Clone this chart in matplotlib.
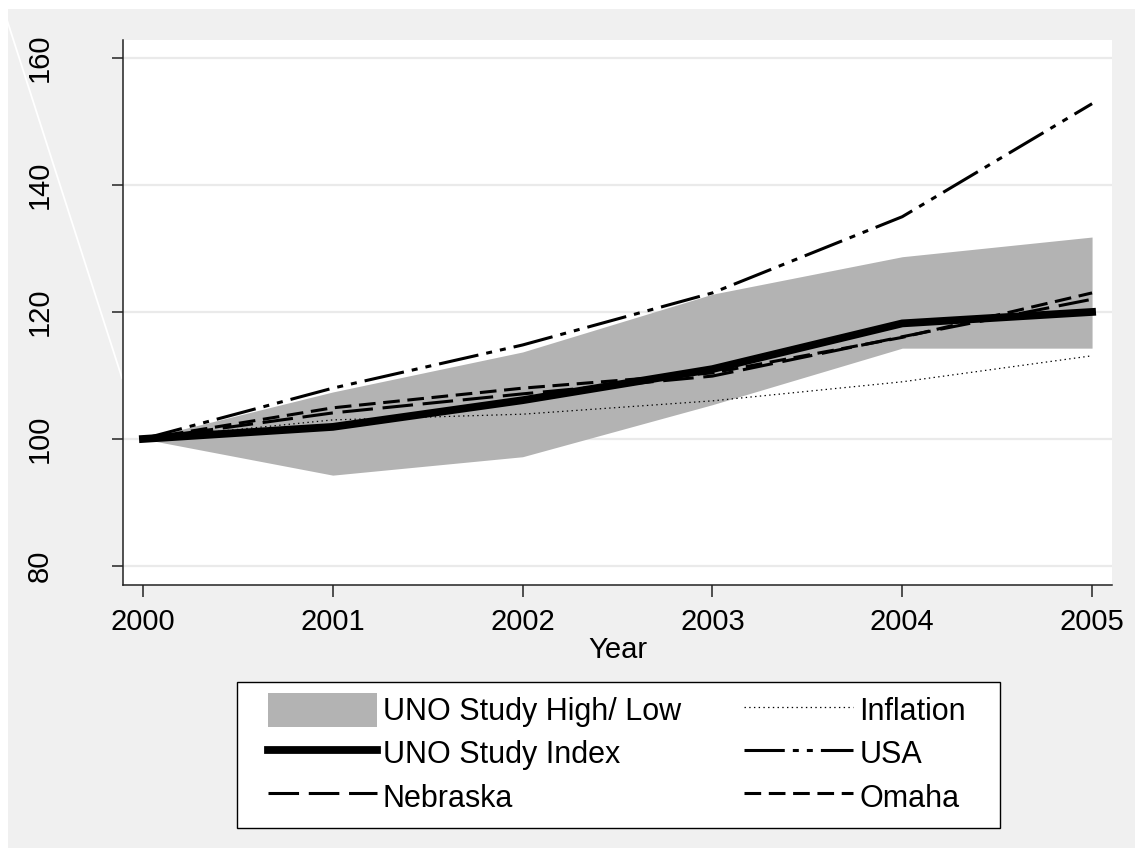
import matplotlib
matplotlib.use('Agg')
import matplotlib.pyplot as plt
from matplotlib.lines import Line2D
from matplotlib.patches import Rectangle, Patch

# ---- data ----
years = [2000, 2001, 2002, 2003, 2004, 2005]
band_low = [100, 94.3, 97.2, 105.4, 114.3, 114.3]
band_high = [100, 107.4, 113.7, 122.8, 128.7, 131.8]
uno_index = [100, 101.9, 106.1, 111.0, 118.2, 120.0]
usa = [100, 108.0, 114.8, 123.0, 135.0, 152.8]
nebraska = [100, 104.1, 107.1, 109.9, 116.1, 122.0]
omaha = [100, 104.9, 108.0, 110.4, 116.0, 123.0]
inflation = [100, 103.0, 103.9, 106.0, 109.0, 113.1]
y_ticks = [80, 100, 120, 140, 160]
labels = ["UNO Study High/ Low", "UNO Study Index", "Nebraska",
          "Inflation", "USA", "Omaha"]

plt.rcParams['font.family'] = ['Liberation Sans', 'DejaVu Sans']
plt.rcParams['lines.scale_dashes'] = False

W, H = 1135, 855
FS = 21
LFS = 22
fig = plt.figure(figsize=(W / 100, H / 100), dpi=100, facecolor='white')

# grey outer background (with thin white margin at top/left)
fig.add_artist(Rectangle((8 / W, 1 - 848 / H), (W - 8) / W, (848 - 9) / H,
                         transform=fig.transFigure, facecolor='#f0f0f0',
                         edgecolor='none', zorder=-10))
# white diagonal artefact line at upper left
fig.add_artist(Line2D([7 / W, 122 / W], [1 - 20 / H, 1 - 378 / H],
                      transform=fig.transFigure, color='white', lw=1.3, zorder=-9))

ax = fig.add_axes([123 / W, 1 - 585 / H, 989 / W, 545 / H])
ax.set_facecolor('white')

band = ax.fill_between(years, band_low, band_high, color='#b3b3b3', lw=0, zorder=1)
l_inf, = ax.plot(years, inflation, color='black', lw=0.9, dashes=(1.0, 2.4), zorder=2)
l_idx, = ax.plot(years, uno_index, color='black', lw=5.6, solid_joinstyle='miter', zorder=3)
l_usa, = ax.plot(years, usa, color='black', lw=2.2,
                 dashes=(29, 5.8, 4.3, 5.8, 4.3, 5.8), zorder=4)
l_neb, = ax.plot(years, nebraska, color='black', lw=2.2, dashes=(22, 7), zorder=4)
l_oma, = ax.plot(years, omaha, color='black', lw=2.2, dashes=(12, 5.5), zorder=4)

ax.set_xlim(1999.895, 2005.105)
ax.set_ylim(77.0, 162.83)
ax.set_xticks(years)
ax.set_yticks(y_ticks)
ax.yaxis.grid(True, color='#eaeaea', lw=1.6)
ax.set_axisbelow(True)
for s in ['top', 'right']:
    ax.spines[s].set_visible(False)
for s in ['left', 'bottom']:
    ax.spines[s].set_color('#222222')
    ax.spines[s].set_linewidth(1.1)

ax.tick_params(axis='x', length=8.6, width=1.1, color='#222222', pad=8, labelsize=FS)
ax.tick_params(axis='y', length=8, width=1.1, color='#222222', pad=42, labelsize=FS)
for t in ax.get_yticklabels():
    t.set_rotation(90)
    t.set_va('center')
    t.set_ha('right')

ax.set_xlabel('Year', fontsize=FS, labelpad=0)

# legend frame drawn manually
fig.add_artist(Rectangle((237 / W, 1 - 828 / H), (1000 - 237) / W, (828 - 682) / H,
                         transform=fig.transFigure, facecolor='white',
                         edgecolor='black', lw=1.0, zorder=5))

band_handle = Patch(facecolor='#b3b3b3', edgecolor='none')
leg = fig.legend([band_handle, l_idx, l_neb, l_inf, l_usa, l_oma], labels,
                 ncol=2, loc='upper left', mode='expand',
                 bbox_to_anchor=(268 / W, 1 - 693 / H, (966 - 268) / W, 0.0001),
                 frameon=False, fontsize=LFS, borderpad=0, borderaxespad=0,
                 handlelength=3.56, handleheight=1.35, handletextpad=0.2,
                 labelspacing=0.29)
leg.set_zorder(6)

fig.savefig('out.png', dpi=100, facecolor=fig.get_facecolor())
